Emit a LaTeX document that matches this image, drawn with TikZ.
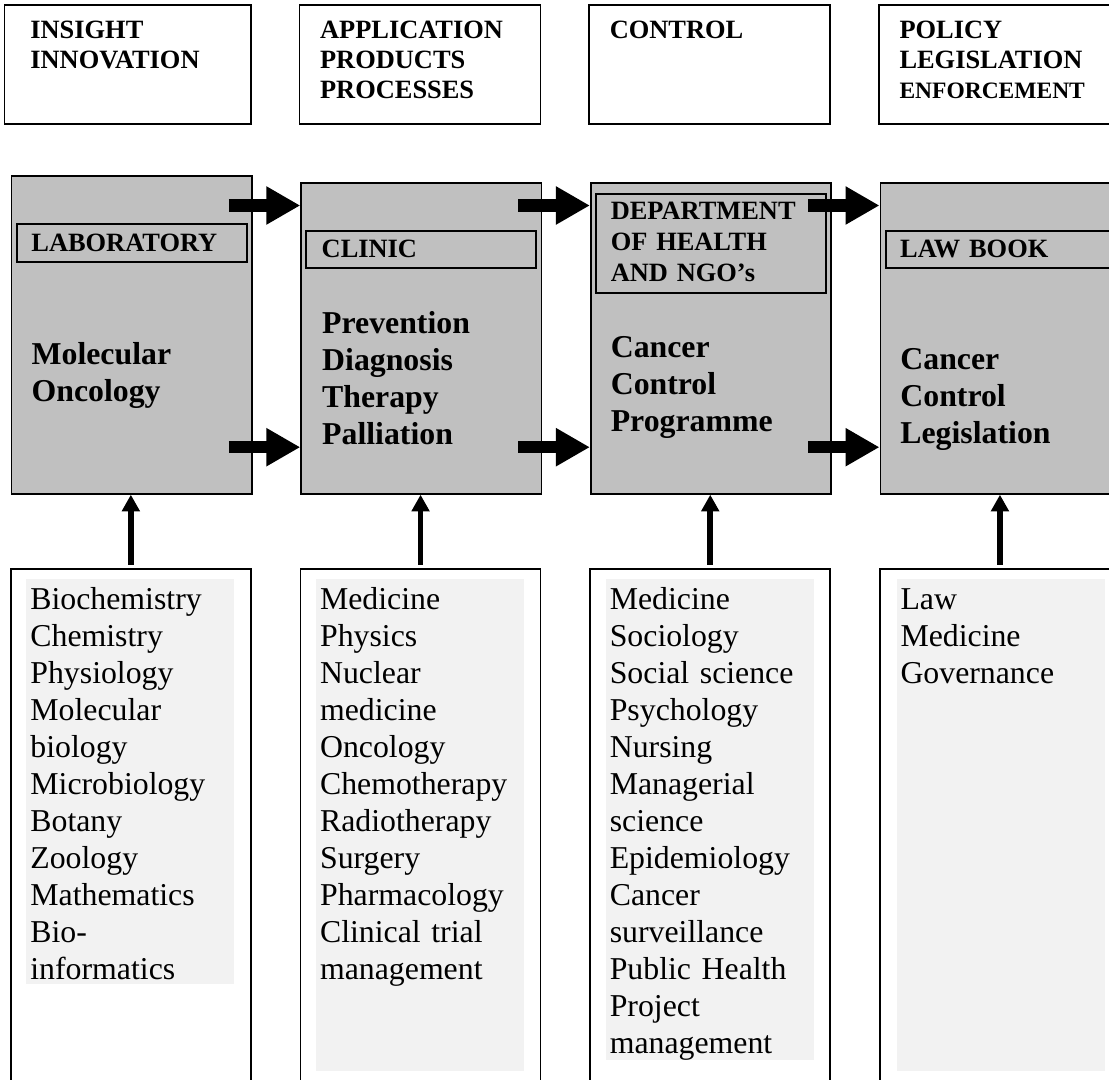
\documentclass[tikz,border=0pt]{standalone}
\usepackage{fontspec}
\setmainfont{Liberation Serif}
\usetikzlibrary{arrows.meta, positioning}
\definecolor{cbox}{HTML}{C0C0C0}
\definecolor{cpanel}{HTML}{F2F2F2}
\newcommand{\capsfont}{\fontsize{13.2}{15}\selectfont\bfseries}
\newcommand{\bigfont}{\fontsize{15.9}{18.35}\selectfont\bfseries}
\newcommand{\listfont}{\fontsize{15.9}{18.5}\selectfont}

\begin{document}
\begin{tikzpicture}[
  x=0.5pt, y=-0.5pt,
  frame/.style={draw, line width=0.85pt, inner sep=0pt, anchor=north west},
  topbox/.style={frame, minimum width=120.5pt, minimum height=59.5pt},
  midbox/.style={frame, fill=cbox, minimum width=120.2pt, minimum height=155.5pt},
  tag/.style={frame, minimum width=115pt, minimum height=18.5pt},
  lowbox/.style={frame, minimum width=120pt, minimum height=280pt},
  panel/.style={fill=cpanel, inner sep=0pt, anchor=north west, minimum width=104pt},
  txt/.style={anchor=base west, inner sep=0pt, text width=112pt, align=left},
  caps/.style={txt, font=\capsfont},
  big/.style={txt, font=\bigfont},
  list/.style={txt, font=\listfont},
  flow/.style={line width=6.2pt, -{Triangle[length=17pt, width=18pt]}},
  feed/.style={line width=2.85pt, -{Triangle[length=8.35pt, width=8.65pt]}},
  ]
\useasboundingbox (0,0) rectangle (1109,1080);
\clip (0,0) rectangle (1109,1080);

\node[topbox, minimum width=123.2pt] (insight) at (3.6,4) {};
\node[topbox, right=23.5pt of insight] (appl) {};
\node[topbox, right=23.5pt of appl] (ctrl) {};
\node[topbox, right=23.5pt of ctrl] (policy) {};

\node[caps] (insighthead) at ([shift={(13.2pt,-17.5pt)}]insight.north west) {INSIGHT\\INNOVATION};
\node[caps] (applhead) at ([shift={(10.5pt,-17.2pt)}]appl.north west) {APPLICATION\\PRODUCTS\\PROCESSES};
\node[caps] (ctrlhead) at ([shift={(10.5pt,-17.5pt)}]ctrl.north west) {CONTROL};
\node[caps] (policyhead) at ([shift={(10.5pt,-17.5pt)}]policy.north west) {POLICY\\LEGISLATION\\{\fontsize{11.75}{15}\selectfont ENFORCEMENT}};

\node[midbox, minimum height=159pt] (lab) at (10.7,175) {};
\node[midbox, right=23.75pt of lab.south east, anchor=south west] (clinic) {};
\node[midbox, right=23.75pt of clinic] (dept) {};
\node[midbox, right=23.75pt of dept] (lawbk) {};

\node[tag, minimum height=19pt] (labtag) at ([shift={(2.65pt,-24pt)}]lab.north west) {};
\node[tag] (clintag) at ([shift={(2.5pt,-24pt)}]clinic.north west) {};
\node[tag, minimum height=49.5pt] (depttag) at ([shift={(2.75pt,-5.5pt)}]dept.north west) {};
\node[tag] (lawtag) at ([shift={(2.65pt,-24pt)}]lawbk.north west) {};

\node[caps] (labhead) at ([shift={(7.5pt,-14.5pt)}]labtag.north west) {LABORATORY};
\node[caps] (clinhead) at ([shift={(8pt,-14pt)}]clintag.north west) {CLINIC};
\node[caps, font=\fontsize{13.2}{15.5}\selectfont\bfseries] (depthead) at ([shift={(7.5pt,-13.5pt)}]depttag.north west) {DEPARTMENT\\OF HEALTH\\AND NGO's};
\node[caps] (lawhead) at ([shift={(7.5pt,-14pt)}]lawtag.north west) {LAW BOOK};

\node[big] (labtxt) at ([shift={(10.25pt,-95pt)}]lab.north west) {Molecular\\Oncology};
\node[big] (clintxt) at ([shift={(10.75pt,-76pt)}]clinic.north west) {Prevention\\Diagnosis\\Therapy\\Palliation};
\node[big] (depttxt) at ([shift={(10.25pt,-88pt)}]dept.north west) {Cancer\\Control\\Programme};
\node[big] (lawtxt) at ([shift={(10.25pt,-94pt)}]lawbk.north west) {Cancer\\Control\\Legislation};

\draw[flow] ([shift={(-12pt,-15.25pt)}]lab.north east) -- ([yshift=-11.75pt]clinic.north west);
\draw[flow] ([shift={(-12pt,-11.75pt)}]clinic.north east) -- ([yshift=-11.75pt]dept.north west);
\draw[flow] ([shift={(-12pt,-11.75pt)}]dept.north east) -- ([yshift=-11.75pt]lawbk.north west);
\draw[flow] ([shift={(-12pt,23.75pt)}]lab.south east) -- ([yshift=23.75pt]clinic.south west);
\draw[flow] ([shift={(-12pt,23.75pt)}]clinic.south east) -- ([yshift=23.75pt]dept.south west);
\draw[flow] ([shift={(-12pt,23.75pt)}]dept.south east) -- ([yshift=23.75pt]lawbk.south west);

\node[lowbox] (bio) at (10,568) {};
\node[lowbox, right=24pt of bio] (med) {};
\node[lowbox, right=24pt of med] (soc) {};
\node[lowbox, right=24pt of soc] (legal) {};

\node[panel, minimum height=202.5pt] (biobg) at ([shift={(8pt,-5.5pt)}]bio.north west) {};
\node[panel, minimum height=246pt] (medbg) at ([shift={(8pt,-5.5pt)}]med.north west) {};
\node[panel, minimum height=240.5pt] (socbg) at ([shift={(8pt,-5.5pt)}]soc.north west) {};
\node[panel, minimum height=246pt] (legalbg) at ([shift={(8.5pt,-5.5pt)}]legal.north west) {};

\node[list] (biolist) at ([shift={(10pt,-21pt)}]bio.north west) {Biochemistry\\Chemistry\\Physiology\\Molecular\\biology\\Microbiology\\Botany\\Zoology\\Mathematics\\Bio-\\informatics};
\node[list] (medlist) at ([shift={(10pt,-21pt)}]med.north west) {Medicine\\Physics\\Nuclear\\medicine\\Oncology\\Chemotherapy\\Radiotherapy\\Surgery\\Pharmacology\\Clinical trial\\management};
\node[list] (soclist) at ([shift={(10pt,-21pt)}]soc.north west) {Medicine\\Sociology\\Social science\\Psychology\\Nursing\\Managerial\\science\\Epidemiology\\Cancer\\surveillance\\Public Health\\Project\\management};
\node[list] (legallist) at ([shift={(10.5pt,-21pt)}]legal.north west) {Law\\Medicine\\Governance};

\draw[feed, shorten <=1.5pt] (bio.north) -- (bio.north |- lab.south);
\draw[feed, shorten <=1.5pt] (med.north) -- (med.north |- clinic.south);
\draw[feed, shorten <=1.5pt] (soc.north) -- (soc.north |- dept.south);
\draw[feed, shorten <=1.5pt] (legal.north) -- (legal.north |- lawbk.south);
\end{tikzpicture}
\end{document}
